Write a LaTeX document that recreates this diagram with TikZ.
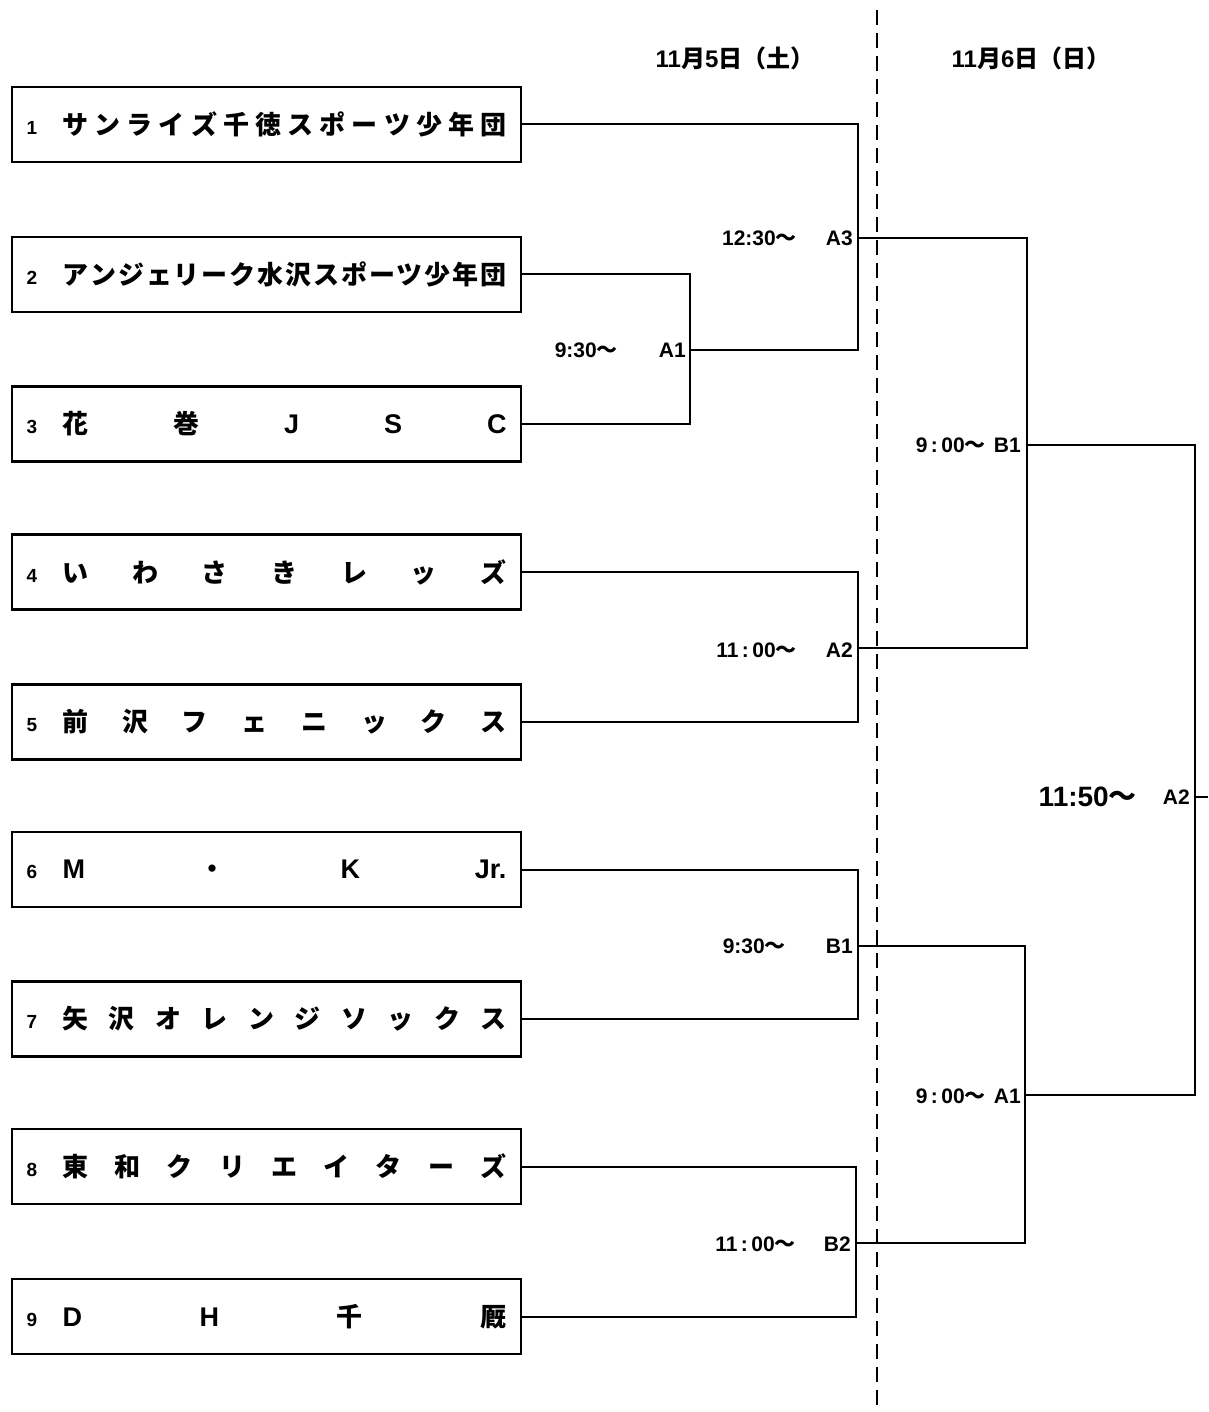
\documentclass[tikz,border=0pt]{standalone}
\usepackage{fontspec}
\setmainfont{Liberation Sans}
\newfontfamily\jp{Noto Sans CJK JP}
\newfontfamily\la{Liberation Sans}
\newcommand\teamrow[2]{\makebox[36pt][l]{\la\bfseries\fontsize{19}{19}\selectfont #1}\hbox to 444pt{\jp\bfseries\fontsize{26}{30}\selectfont #2}}
\newcommand\Lt[1]{{\la\bfseries\fontsize{27}{30}\selectfont #1}}
\newcommand\tl[1]{#1{\jp ～}}
\begin{document}
\begin{tikzpicture}[x=1pt,y=-1pt]
\tikzset{
  team/.style={draw, line width=2.2pt, minimum width=509pt, minimum height=75pt, inner sep=0pt},
  lbl/.style={inner sep=0pt, font=\la\bfseries\fontsize{21}{24}\selectfont, anchor=east},
  biglbl/.style={inner sep=0pt, font=\la\bfseries\fontsize{28}{30}\selectfont, anchor=east},
  head/.style={inner sep=0pt, font=\la\bfseries\fontsize{24}{28}\selectfont},
  wire/.style={line width=2pt},
  sep/.style={line width=1.8pt, dash pattern=on 15pt off 8pt}
}
\useasboundingbox (0,0) rectangle (1208,1412);
\fill[white] (0,0) rectangle (1208,1412);

% headers
\node[head] (h1) at (735,58) {11{\jp 月}5{\jp 日（土）}};
\node[head] (h2) at (1031,58) {11{\jp 月}6{\jp 日（日）}};

% separator
\coordinate (s1) at (877,10);
\coordinate (s2) at (877,1412);
\draw[sep] (s1) -- (s2);

% teams
\node[team] (t1) at (266.5,124.5) {\teamrow{1}{サ\hfill ン\hfill ラ\hfill イ\hfill ズ\hfill 千\hfill 徳\hfill ス\hfill ポ\hfill ー\hfill ツ\hfill 少\hfill 年\hfill 団}};
\node[team] (t2) at (266.5,274.5) {\teamrow{2}{ア\hfill ン\hfill ジ\hfill ェ\hfill リ\hfill ー\hfill ク\hfill 水\hfill 沢\hfill ス\hfill ポ\hfill ー\hfill ツ\hfill 少\hfill 年\hfill 団}};
\node[team] (t3) at (266.5,424) {\teamrow{3}{花\hfill 巻\hfill \Lt{J}\hfill \Lt{S}\hfill \Lt{C}}};
\node[team] (t4) at (266.5,572) {\teamrow{4}{い\hfill わ\hfill さ\hfill き\hfill レ\hfill ッ\hfill ズ}};
\node[team] (t5) at (266.5,722) {\teamrow{5}{前\hfill 沢\hfill フ\hfill ェ\hfill ニ\hfill ッ\hfill ク\hfill ス}};
\node[team] (t6) at (266.5,869.5) {\teamrow{6}{\Lt{M}\hfill ・\hfill \Lt{K}\hfill \Lt{Jr.}}};
\node[team] (t7) at (266.5,1019) {\teamrow{7}{矢\hfill 沢\hfill オ\hfill レ\hfill ン\hfill ジ\hfill ソ\hfill ッ\hfill ク\hfill ス}};
\node[team] (t8) at (266.5,1166.5) {\teamrow{8}{東\hfill 和\hfill ク\hfill リ\hfill エ\hfill イ\hfill タ\hfill ー\hfill ズ}};
\node[team] (t9) at (266.5,1316.5) {\teamrow{9}{\Lt{D}\hfill \Lt{H}\hfill 千\hfill 厩}};

% joints
\coordinate (jA1) at (690,350);
\coordinate (jA3) at (858,238);
\coordinate (jA2) at (858,648);
\coordinate (jB1) at (858,946);
\coordinate (jB2) at (856,1243);
\coordinate (kB1) at (1027,445);
\coordinate (kA1) at (1025,1095);
\coordinate (fin) at (1195,797);
\coordinate (finend) at (1208,797);

% day 1 wiring
\draw[wire] (t2.east) -| (jA1);
\draw[wire] (t3.east) -| (jA1);
\draw[wire] (t1.east) -| (jA3);
\draw[wire] (jA1) -| (jA3);
\draw[wire] (t4.east) -| (jA2);
\draw[wire] (t5.east) -| (jA2);
\draw[wire] (t6.east) -| (jB1);
\draw[wire] (t7.east) -| (jB1);
\draw[wire] (t8.east) -| (jB2);
\draw[wire] (t9.east) -| (jB2);
% day 2 wiring
\draw[wire] (jA3) -| (kB1);
\draw[wire] (jA2) -| (kB1);
\draw[wire] (jB1) -| (kA1);
\draw[wire] (jB2) -| (kA1);
\draw[wire] (kB1) -| (fin);
\draw[wire] (kA1) -| (fin);
\draw[wire] (fin) -- (finend);

% labels day 1
\node[lbl] (lA1t) at (618,350) {\tl{9:30}};
\node[lbl] (lA1c) at (686,350) {A1};
\node[lbl] (lA3t) at (797,238) {\tl{12:30}};
\node[lbl] (lA3c) at (853,238) {A3};
\node[lbl] (lA2t) at (797,650) {\tl{11\,:\,00}};
\node[lbl] (lA2c) at (853,650) {A2};
\node[lbl] (lB1t) at (786,946) {\tl{9:30}};
\node[lbl] (lB1c) at (853,946) {B1};
\node[lbl] (lB2t) at (796,1244) {\tl{11\,:\,00}};
\node[lbl] (lB2c) at (851,1244) {B2};
% labels day 2
\node[lbl] (mB1t) at (986,445) {\tl{9\,:\,00}};
\node[lbl] (mB1c) at (1021,445) {B1};
\node[lbl] (mA1t) at (986,1096) {\tl{9\,:\,00}};
\node[lbl] (mA1c) at (1021,1096) {A1};
\node[biglbl] (fint) at (1137,797) {\tl{11:50}};
\node[lbl] (finc) at (1190,797) {A2};
\end{tikzpicture}
\end{document}
